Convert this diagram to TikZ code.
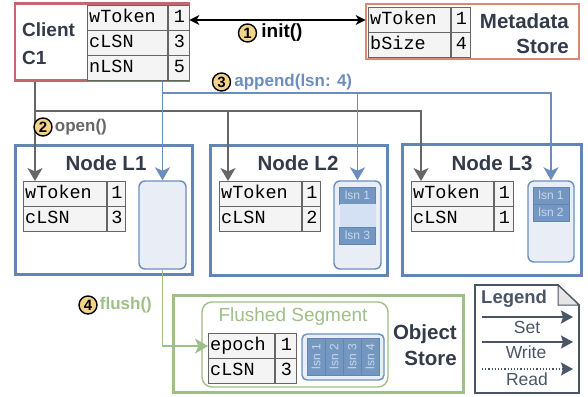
\documentclass[tikz,border=0pt]{standalone}
\usepackage{fontspec}
\setmainfont{Liberation Sans}
\newfontfamily\monof{Liberation Mono}
\usetikzlibrary{arrows.meta}
\definecolor{cred}{HTML}{C8646E}
\definecolor{csalmon}{HTML}{D88A72}
\definecolor{cblue}{HTML}{6185B5}
\definecolor{cblueline}{HTML}{6C8EBF}
\definecolor{cgreen}{HTML}{9EBF87}
\definecolor{cgrey}{HTML}{666666}
\definecolor{ctext}{HTML}{333B4A}
\definecolor{csegfill}{HTML}{E9EDF5}
\definecolor{cblock}{HTML}{7497C2}
\definecolor{cblocktxt}{HTML}{C9D7EA}
\definecolor{cgap}{HTML}{D4E1F5}
\definecolor{cnum}{HTML}{F2D38A}
\definecolor{ccell}{HTML}{F4F4F4}
\definecolor{clegend}{HTML}{4A5568}
\newcommand\tabfont{\monof\fontsize{18.5}{20}\selectfont}
\newcommand\titlefont{\bfseries\fontsize{20.5}{25}\selectfont}
\newcommand\lblfont{\bfseries\fontsize{17}{18}\selectfont}
\newcommand\trow[8]{%
  \node[cellbox, minimum width=#4, minimum height=#6] (#1k) at (#2,#3) {};
  \node[celltxt, anchor=west] (#1kt) at ([xshift=2pt]#1k.west) {#7};
  \node[cellbox, minimum width=#5, minimum height=#6] (#1v) at (#1k.north east) {};
  \node[celltxt] (#1vt) at (#1v.center) {#8};
}
\tikzset{
  cellbox/.style={draw=cgrey, fill=ccell, line width=1.2pt, inner sep=0pt, anchor=north west},
  celltxt/.style={font=\tabfont, inner sep=0pt, text=black, text height=11pt, text depth=3pt},
  bigbox/.style={draw=#1, line width=2.8pt, fill=white, inner sep=0pt},
  title/.style={font=\titlefont, text=ctext, inner sep=0pt},
  seg/.style={draw=cblueline, fill=csegfill, line width=1.4pt, rounded corners=6pt, inner sep=0pt},
  blk/.style={draw=cblue, fill=cblock, line width=0.6pt, inner sep=0pt, text=cblocktxt, font=\fontsize{12}{12}\selectfont},
  numc/.style={circle, draw=black, line width=1.4pt, fill=cnum, minimum size=18pt, inner sep=0pt, font=\bfseries\fontsize{15}{15}\selectfont},
  lbl/.style={font=\lblfont, inner sep=0pt, anchor=west},
  arr/.style={-{Stealth[length=13pt,width=15pt,inset=3.5pt]}},
  openln/.style={draw=cgrey, line width=1.4pt},
  appln/.style={draw=cblueline, line width=1.4pt},
  flushln/.style={draw=cgreen, line width=1.6pt},
}
\begin{document}
\begin{tikzpicture}[x=1pt,y=-1pt]
\useasboundingbox (0,0) rectangle (588,396);
% ---------- big boxes ----------
\node[bigbox=cred, minimum width=174, minimum height=77] (client) at (102,42) {};
\node[bigbox=csalmon, minimum width=213, minimum height=55] (meta) at (472.5,31.5) {};
\node[bigbox=cblue, line width=3pt, minimum width=177, minimum height=129] (L1) at (103.5,209.5) {};
\node[bigbox=cblue, line width=3pt, minimum width=177, minimum height=130] (L2) at (298.5,210) {};
\node[bigbox=cblue, line width=3pt, minimum width=179, minimum height=131] (L3) at (491.5,209.5) {};
\node[bigbox=cgreen, line width=3pt, minimum width=290, minimum height=97] (obj) at (318,343.5) {};
% ---------- client ----------
\node[title, font=\bfseries\fontsize{19}{28}\selectfont, align=left, anchor=west] (clientt) at (22,44) {Client\\C1};
\trow{CA}{87}{5}{80}{21}{25}{wToken}{1}
\trow{CB}{87}{30}{80}{21}{25}{cLSN}{3}
\trow{CC}{87}{55}{80}{21}{25}{nLSN}{5}
% ---------- metadata ----------
\trow{MA}{368}{7}{82}{19}{25}{wToken}{1}
\trow{MB}{368}{32}{82}{19}{25}{bSize}{4}
\node[title, font=\bfseries\fontsize{20.5}{25}\selectfont, align=right, anchor=east] (metat) at (569,34) {Metadata\\Store};
% ---------- nodes ----------
\node[title] (L1t) at (106,163) {Node L1};
\node[title] (L2t) at (298,163) {Node L2};
\node[title] (L3t) at (492,163) {Node L3};
\trow{LAa}{23}{181}{83}{18}{25}{wToken}{1}
\trow{LAb}{23}{206}{83}{18}{25}{cLSN}{3}
\trow{LBa}{219}{181}{82}{18}{25}{wToken}{1}
\trow{LBb}{219}{206}{82}{18}{25}{cLSN}{2}
\trow{LCa}{411}{181}{82}{19}{25}{wToken}{1}
\trow{LCb}{411}{206}{82}{19}{25}{cLSN}{1}
\node[seg, minimum width=47, minimum height=88] (L1s) at (162.5,225) {};
\node[seg, minimum width=47, minimum height=88] (L2s) at (357.5,225) {};
\node[seg, minimum width=46, minimum height=81] (L3s) at (551,221.5) {};
\node[blk, minimum width=36, minimum height=17] (L2b1) at (357.5,195.5) {lsn 1};
\node[fill=cgap, inner sep=0pt, minimum width=36, minimum height=23] (L2gap) at (357.5,215.5) {};
\node[blk, minimum width=36, minimum height=17] (L2b3) at (357.5,235.5) {lsn 3};
\node[blk, minimum width=36, minimum height=17] (L3b1) at (551,195.5) {lsn 1};
\node[blk, minimum width=36, minimum height=17] (L3b2) at (551,212.5) {lsn 2};
% ---------- object store ----------
\node[draw=cgreen, line width=1.4pt, rounded corners=10pt, inner sep=0pt, minimum width=186, minimum height=85] (fseg) at (295,344.5) {};
\node[inner sep=0pt, text=cgreen, font=\fontsize{19}{19}\selectfont] (fsegt) at (293,317) {Flushed Segment};
\trow{FA}{208}{333}{66}{21}{25}{epoch}{1}
\trow{FB}{208}{358}{66}{21}{25}{cLSN}{3}
\node[seg, rounded corners=5pt, minimum width=82, minimum height=46] (Fs) at (343,357) {};
\foreach \i/\xx in {1/316,2/334,3/352,4/370}{
  \node[blk, minimum width=18, minimum height=37] (Fb\i) at (\xx,356.5) {\rotatebox{90}{lsn \i}};
}
\node[title, font=\bfseries\fontsize{20.5}{26}\selectfont, align=right, anchor=east] (objt) at (457,345) {Object\\Store};
% ---------- legend ----------
\draw[clegend, line width=1.8pt, fill=white, line join=miter] (475,285) -- (558,285) -- (579,305) -- (579,393) -- (475,393) -- cycle;
\draw[clegend, line width=1pt, fill=black!10] (558,285) -- (558,305) -- (579,305) -- cycle;
\node[title, font=\bfseries\fontsize{18.5}{20}\selectfont, text=clegend, anchor=west] (legt) at (481,299) {Legend};
\coordinate (sA) at (482,317); \coordinate (sB) at (573,317);
\coordinate (wA) at (482,342); \coordinate (wB) at (573,342);
\coordinate (rA) at (482,369); \coordinate (rB) at (573,369);
\draw[clegend, line width=2.4pt, -{Stealth[length=12pt,width=13pt,inset=2pt]}] (sA) -- (sB);
\draw[clegend, line width=1.4pt, -{Stealth[length=12pt,width=13pt,inset=2pt]}] (wA) -- (wB);
\draw[clegend, line width=1.2pt, dotted, -{Stealth[length=12pt,width=13pt,inset=2pt]}] (rA) -- (rB);
\node[inner sep=0pt, text=clegend, font=\fontsize{17.5}{17}\selectfont] (lset) at (527,327) {Set};
\node[inner sep=0pt, text=clegend, font=\fontsize{17.5}{17}\selectfont] (lwrite) at (526,352) {Write};
\node[inner sep=0pt, text=clegend, font=\fontsize{17.5}{17}\selectfont] (lread) at (527,379) {Read};
% ---------- connectors ----------
\coordinate (iy) at (0,20);
\draw[black, line width=1.4pt, {Stealth[length=10pt,width=10pt,inset=3pt]}-{Stealth[length=10pt,width=10pt,inset=3pt]}, shorten <=-1pt, shorten >=-1pt] (client.east |- iy) -- (meta.west |- iy);
% open
\coordinate (oA) at (35,111); \coordinate (oB) at (228,111); \coordinate (oC) at (421,111);
\draw[openln, arr] (client.south -| oA) -- (LAak.north -| oA);
\draw[openln, arr] (oA) -- (oC) -- (LCak.north -| oC);
\draw[openln, arr] (oB) -- (LBak.north -| oB);
% append
\coordinate (aA) at (162.5,93);
\draw[appln, arr] (client.south -| aA) -- (L1s.north);
\draw[appln, arr] (aA) -- (aA -| L3s.north) -- (L3s.north);
\draw[appln, arr] (aA -| L2s.north) -- (L2s.north);
% flush
\draw[flushln, arr] (L1s.south) -- (L1s.south |- FAk.west) -- (FAk.west);
% labels
\node[numc] (n1) at (247.5,33) {1};
\node[lbl, text=black, font=\bfseries\fontsize{19}{19}\selectfont] (t1) at ([xshift=4pt]n1.east) {init()};
\node[numc] (n2) at (43,127) {2};
\node[lbl, text=cgrey] (t2) at ([xshift=2pt]n2.east) {open()};
\node[numc] (n3) at (221.5,82) {3};
\node[lbl, text=cblueline] (t3) at ([xshift=3pt]n3.east) {append(lsn: 4)};
\node[numc] (n4) at (88,305) {4};
\node[lbl, text=cgreen] (t4) at ([xshift=2pt]n4.east) {flush()};
\end{tikzpicture}
\end{document}
